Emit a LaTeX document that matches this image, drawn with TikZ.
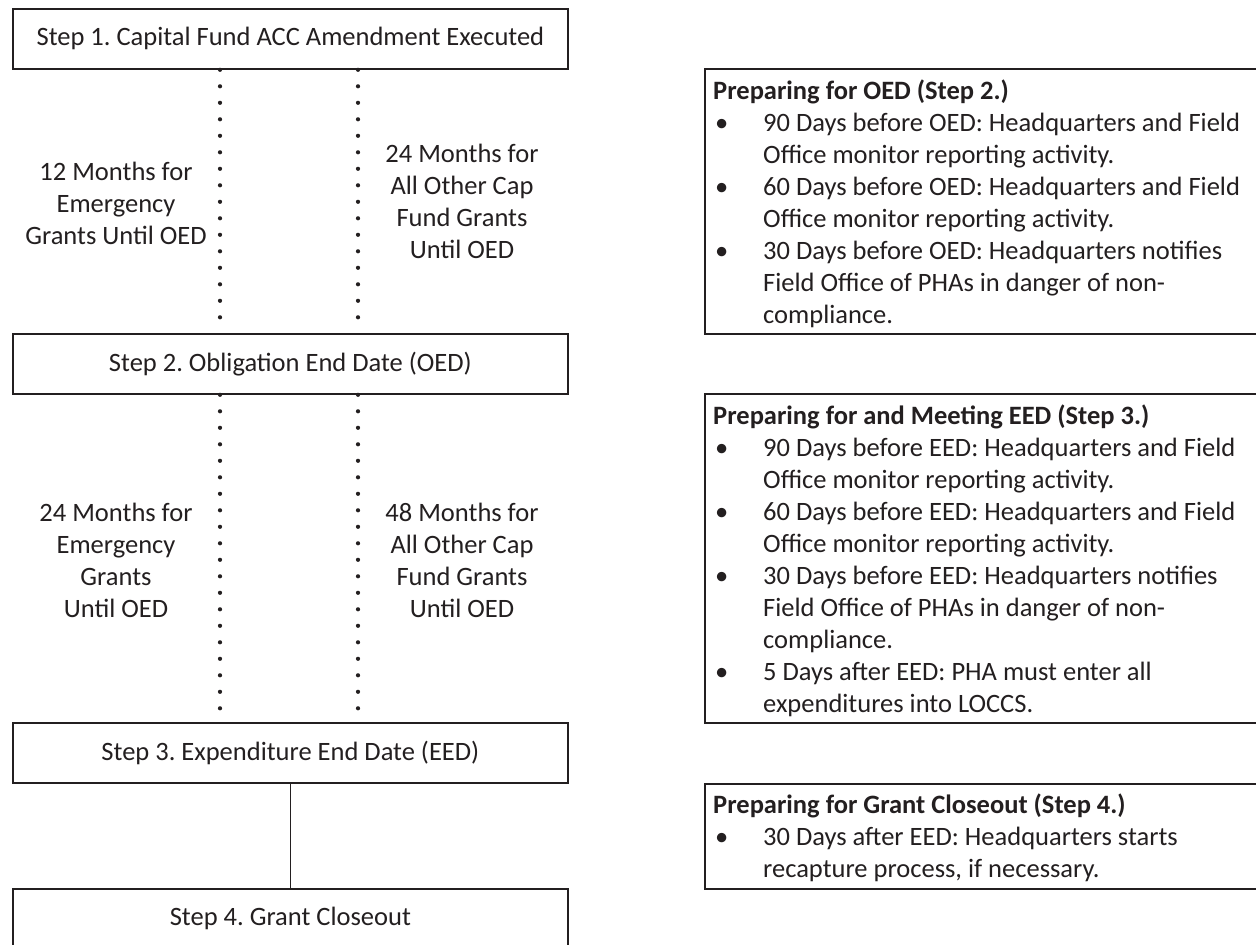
\documentclass[tikz,border=0pt]{standalone}
\usepackage{fontspec}
\setmainfont{Carlito}
\frenchspacing
\definecolor{ink}{HTML}{231F20}
\newcommand{\bul}{\makebox[50pt][l]{\hspace{2pt}•}}
\newcommand{\ind}{\hspace*{50pt}}
\begin{document}
\begin{tikzpicture}[x=1pt,y=-1pt,
  every node/.style={text=ink, font=\fontsize{26.5}{32}\selectfont},
  stepbox/.style={draw=ink, line width=1.8pt, minimum width=555pt, minimum height=60pt, inner sep=0pt, anchor=north west},
  sidebox/.style={draw=ink, line width=1.8pt, minimum width=560pt, inner sep=0pt, anchor=north west},
  sidetext/.style={anchor=north west, inner sep=0pt, align=left},
  lbl/.style={align=center, inner sep=0pt},
  dotline/.style={draw=ink, line width=4.2pt, line cap=round, dash pattern=on 0pt off 16.5pt},
  solidline/.style={draw=ink, line width=1.8pt}]
\useasboundingbox (0,0) rectangle (1256,945);
\fill[white] (0,0) rectangle (1256,945);

% left column steps
\node[stepbox] (s1) at (12,8) {Step 1. Capital Fund ACC Amendment Executed};
\node[stepbox] (s2) at (12,333) {Step 2. Obligation End Date (OED)};
\node[stepbox] (s3) at (12,722) {Step 3. Expenditure End Date (EED)};
\node[stepbox] (s4) at (12,888) {Step 4. Grant Closeout};

\coordinate (xl) at (220,0);
\coordinate (xr) at (358,0);

% connectors
\draw[dotline] (s1.south -| xl) -- (s2.north -| xl);
\draw[dotline] (s1.south -| xr) -- (s2.north -| xr);
\draw[dotline] (s2.south -| xl) -- (s3.north -| xl);
\draw[dotline] (s2.south -| xr) -- (s3.north -| xr);
\draw[solidline] (s3.south) -- (s4.north);

% labels between steps
\node[lbl] (l1) at (116,203) {12 Months for\\Emergency\\Grants Until OED};
\node[lbl] (r1) at (462,201) {24 Months for\\All Other Cap\\Fund Grants\\Until OED};
\node[lbl] (l2) at (116,560) {24 Months for\\Emergency\\Grants\\Until OED};
\node[lbl] (r2) at (462,560) {48 Months for\\All Other Cap\\Fund Grants\\Until OED};

% right side boxes
\node[sidebox, minimum height=265pt] (b1) at (704,68) {};
\node[sidebox, minimum height=329pt] (b2) at (704,393) {};
\node[sidebox, minimum height=105pt] (b3) at (704,783) {};

\node[sidetext] (t1) at (713,77) {\strut\textbf{Preparing for OED (Step 2.)}\\
\bul 90 Days before OED: Headquarters and Field\\
\ind Office monitor reporting activity.\\
\bul 60 Days before OED: Headquarters and Field\\
\ind Office monitor reporting activity.\\
\bul 30 Days before OED: Headquarters notifies\\
\ind Field Office of PHAs in danger of non-\\
\ind compliance.};

\node[sidetext] (t2) at (713,402) {\strut\textbf{Preparing for and Meeting EED (Step 3.)}\\
\bul 90 Days before EED: Headquarters and Field\\
\ind Office monitor reporting activity.\\
\bul 60 Days before EED: Headquarters and Field\\
\ind Office monitor reporting activity.\\
\bul 30 Days before EED: Headquarters notifies\\
\ind Field Office of PHAs in danger of non-\\
\ind compliance.\\
\bul 5 Days after EED: PHA must enter all\\
\ind expenditures into LOCCS.};

\node[sidetext] (t3) at (713,791) {\strut\textbf{Preparing for Grant Closeout (Step 4.)}\\
\bul 30 Days after EED: Headquarters starts\\
\ind recapture process, if necessary.};
\end{tikzpicture}
\end{document}
